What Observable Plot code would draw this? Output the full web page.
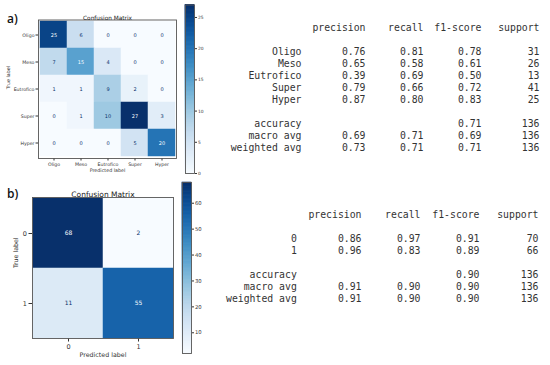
<!DOCTYPE html>
<html><head><meta charset="utf-8">
<script src="https://cdn.jsdelivr.net/npm/d3@7"></script>
<script src="https://cdn.jsdelivr.net/npm/@observablehq/plot@0.6"></script>
<style>
body{margin:0;background:#fff;}
#root{position:relative;width:550px;height:365px;overflow:hidden;background:#fff;}
.pane{position:absolute;}
.tag{position:absolute;font-family:"Open Sans",sans-serif;font-size:12px;font-weight:600;color:#111;line-height:12px;white-space:nowrap;}
</style></head><body><div id="root"></div>
<script>
// ---- Data: panel a) ----
const classesA = ["Oligo", "Meso", "Eutrofico", "Super", "Hyper"];
const matrixA = [
  [25, 6, 0, 0, 0],
  [7, 15, 4, 0, 0],
  [1, 1, 9, 2, 0],
  [0, 1, 10, 27, 3],
  [0, 0, 0, 5, 20]
];
const colorbarTicksA = [0, 5, 10, 15, 20, 25];
const precisionA = [0.76, 0.65, 0.39, 0.79, 0.87];
const recallA = [0.81, 0.58, 0.69, 0.66, 0.80];
const f1A = [0.78, 0.61, 0.50, 0.72, 0.83];
const supportA = [31, 26, 13, 41, 25];
const accuracyA = 0.71;
const macroA = [0.69, 0.71, 0.69];
const weightedA = [0.73, 0.71, 0.71];
const totalA = 136;

// ---- Data: panel b) ----
const classesB = ["0", "1"];
const matrixB = [
  [68, 2],
  [11, 55]
];
const colorbarTicksB = [10, 20, 30, 40, 50, 60];
const precisionB = [0.86, 0.96];
const recallB = [0.97, 0.83];
const f1B = [0.91, 0.89];
const supportB = [70, 66];
const accuracyB = 0.90;
const macroB = [0.91, 0.90, 0.90];
const weightedB = [0.91, 0.90, 0.90];
const totalB = 136;

const reportColumns = ["precision", "recall", "f1-score", "support"];

const root = document.getElementById("root");
function place(node, left, top, w) {
  const div = document.createElement("div");
  div.className = "pane";
  div.style.left = left + "px";
  div.style.top = top + "px";
  div.style.width = w + "px";
  div.appendChild(node);
  root.appendChild(div);
}
function tag(text, left, top) {
  const d = document.createElement("div");
  d.className = "tag";
  d.textContent = text;
  d.style.left = left + "px";
  d.style.top = top + "px";
  root.appendChild(d);
}

function heatmap(o) {
  const {classes, matrix} = o;
  const cells = matrix.flatMap((row, i) => row.map((v, j) => ({t: classes[i], p: classes[j], v})));
  const vals = cells.map(d => d.v);
  const lo = d3.min(vals), hi = d3.max(vals), thr = (lo + hi) / 2;
  return Plot.plot({
    width: o.W, height: o.H,
    marginLeft: o.mL, marginRight: o.mR, marginTop: o.mT, marginBottom: o.mB,
    style: {fontFamily: "DejaVu Sans", fontSize: o.tickFont + "px", color: "#333", background: "none", overflow: "visible"},
    x: {domain: classes, padding: 0, tickSize: o.tickSize, tickPadding: o.tickPad, label: null},
    y: {domain: classes, padding: 0, tickSize: o.tickSize, tickPadding: o.tickPad, label: null},
    color: {type: "linear", scheme: "blues", domain: [lo, hi]},
    marks: [
      Plot.cell(cells, {x: "p", y: "t", fill: "v", stroke: "v", strokeWidth: 0.5, inset: 0}),
      Plot.text(cells, {x: "p", y: "t", text: d => String(d.v), filter: d => d.v >= thr, fill: "#f7fbff", fontSize: o.cellFont}),
      Plot.text(cells, {x: "p", y: "t", text: d => String(d.v), filter: d => d.v < thr, fill: "#08306b", fontSize: o.cellFont}),
      Plot.frame({stroke: "#555", strokeWidth: 0.9}),
      Plot.text(["Confusion Matrix"], {text: d => d, frameAnchor: "top", dy: o.titleDy, fontSize: o.titleFont, fill: "#222"}),
      Plot.text(["Predicted label"], {text: d => d, frameAnchor: "bottom", dy: o.xLabelDy, fontSize: o.labelFont, fill: "#333"}),
      Plot.text(["True label"], {text: d => d, frameAnchor: "left", dx: o.yLabelDx, rotate: -90, fontSize: o.labelFont, fill: "#333"})
    ]
  });
}

function colorbar(o) {
  const {matrix, ticks} = o;
  const vals = matrix.flat();
  const lo = d3.min(vals), hi = d3.max(vals);
  const step = (hi - lo) / 300;
  const steps = d3.range(300).map(i => lo + i * step);
  return Plot.plot({
    width: o.W, height: o.H,
    marginLeft: o.mL, marginRight: o.mR, marginTop: o.mT, marginBottom: o.mB,
    style: {fontFamily: "DejaVu Sans", fontSize: o.tickFont + "px", color: "#333", background: "none", overflow: "visible"},
    x: {domain: [0, 1], axis: null},
    y: {domain: [lo, hi], axis: "right", ticks, tickFormat: d3.format("d"), tickSize: o.tickSize, tickPadding: o.tickPad, label: null},
    color: {type: "linear", scheme: "blues", domain: [lo, hi]},
    marks: [
      Plot.rect(steps, {x1: () => 0, x2: () => 1, y1: d => d, y2: d => d + step, fill: d => d + step / 2, stroke: d => d + step / 2, strokeWidth: 0.6}),
      Plot.frame({stroke: "#555", strokeWidth: 0.9})
    ]
  });
}

function report(o) {
  const rows = [];
  rows.push({kind: "header"});
  rows.push(null);
  o.labels.forEach((lab, i) => rows.push({label: lab, vals: [o.precision[i].toFixed(2), o.recall[i].toFixed(2), o.f1[i].toFixed(2), String(o.support[i])]}));
  rows.push(null);
  rows.push({label: "accuracy", vals: ["", "", o.accuracy.toFixed(2), String(o.total)]});
  rows.push({label: "macro avg", vals: [...o.macro.map(v => v.toFixed(2)), String(o.total)]});
  rows.push({label: "weighted avg", vals: [...o.weighted.map(v => v.toFixed(2)), String(o.total)]});
  const valueCells = [], labelCells = [];
  rows.forEach((r, i) => {
    if (!r) return;
    if (r.kind === "header") {
      reportColumns.forEach(c => valueCells.push({row: i, col: c, text: c}));
    } else {
      labelCells.push({row: i, col: "label", text: r.label});
      r.vals.forEach((v, j) => { if (v !== "") valueCells.push({row: i, col: reportColumns[j], text: v}); });
    }
  });
  const font = {fontFamily: "DejaVu Sans Mono", fontSize: o.font, fill: "#333", textAnchor: "end"};
  return Plot.plot({
    width: o.W, height: o.H,
    marginLeft: o.mL, marginRight: o.mR, marginTop: o.mT, marginBottom: o.mB,
    style: {background: "none", overflow: "visible"},
    x: {type: "point", domain: ["label", ...reportColumns], padding: 0, axis: null},
    y: {type: "point", domain: d3.range(rows.length), padding: 0, axis: null},
    marks: [
      Plot.text(valueCells, {x: "col", y: "row", text: "text", ...font}),
      Plot.text(labelCells, {x: "col", y: "row", text: "text", dx: o.labelDx, ...font})
    ]
  });
}

// Panel a)
place(heatmap({classes: classesA, matrix: matrixA, W: 182, H: 176, mL: 38, mR: 6, mT: 19.5, mB: 18,
  tickFont: 4.7, cellFont: 5, titleFont: 5.8, labelFont: 4.8, tickSize: 2.5, tickPad: 1.5,
  titleDy: -4.5, xLabelDy: 13, yLabelDx: -30}), 0, 0, 182);
place(colorbar({matrix: matrixA, ticks: colorbarTicksA, W: 40, H: 180, mL: 5, mR: 26, mT: 4.5, mB: 7,
  tickFont: 4.4, tickSize: 2, tickPad: 1.5}), 180, 0, 40);
place(report({labels: classesA, precision: precisionA, recall: recallA, f1: f1A, support: supportA,
  accuracy: accuracyA, macro: macroA, weighted: weightedA, total: totalA,
  W: 350, H: 165, mL: 106.7, mR: 10, mT: 23.8, mB: 15.2, font: 9.8, labelDx: -6}), 200, 0, 350);
tag("a)", 7, 13.3);

// Panel b)
place(heatmap({classes: classesB, matrix: matrixB, W: 180, H: 185, mL: 32, mR: 7, mT: 17, mB: 27,
  tickFont: 6.5, cellFont: 6, titleFont: 7.5, labelFont: 6.3, tickSize: 3.5, tickPad: 2,
  titleDy: -6, xLabelDy: 18, yLabelDx: -17}), 0, 180, 180);
place(colorbar({matrix: matrixB, ticks: colorbarTicksB, W: 40, H: 185, mL: 5, mR: 26, mT: 7, mB: 7,
  tickFont: 5.3, tickSize: 2, tickPad: 1.5}), 177, 175, 40);
place(report({labels: classesB, precision: precisionB, recall: recallB, f1: f1B, support: supportB,
  accuracy: accuracyB, macro: macroB, weighted: weightedB, total: totalB,
  W: 350, H: 140, mL: 101.7, mR: 11, mT: 31, mB: 19.4, font: 9.8, labelDx: -5.7}), 200, 180, 350);
tag("b)", 7, 188.3);
</script>
</body></html>
